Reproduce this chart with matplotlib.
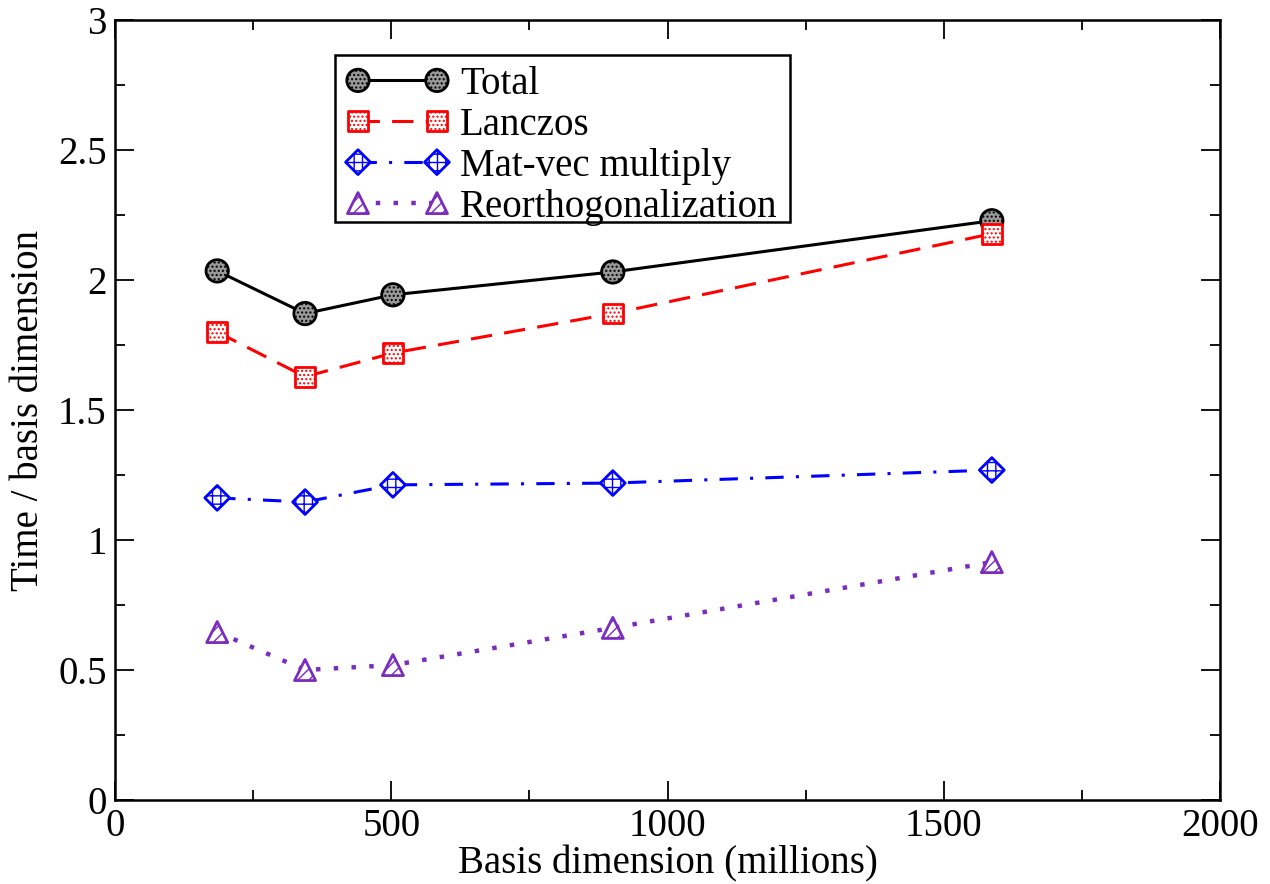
import matplotlib
matplotlib.use("Agg")
import matplotlib.pyplot as plt
from matplotlib.ticker import MultipleLocator
from matplotlib.lines import Line2D
from matplotlib.collections import PathCollection
from matplotlib.markers import MarkerStyle
from matplotlib.patches import Rectangle
import numpy as np

plt.rcParams['font.family'] = ['Liberation Serif', 'DejaVu Serif']
plt.rcParams['hatch.linewidth'] = 1.0

basis = [185, 344, 503, 901, 1587]
total = [2.035, 1.871, 1.943, 2.031, 2.228]
lanczos = [1.800, 1.628, 1.719, 1.871, 2.178]
matvec = [1.162, 1.146, 1.212, 1.219, 1.269]
reortho = [0.646, 0.500, 0.519, 0.662, 0.915]

labels = ["Total", "Lanczos", "Mat-vec multiply", "Reorthogonalization"]
colors = ["black", "red", "blue", "#7b2cbf"]
faces = ["#999999", "white", "white", "white"]
markers = ["o", "s", "D", "^"]
sizes = [260, 200, 160, 230]
hatches = ["....", "....", "++", "///"]
dashes = [None, (7, 4), (6, 4, 1, 4), (1, 3)]
lws = [2.2, 2.2, 2.2, 3.2]
series = [total, lanczos, matvec, reortho]


class Proxy:
    def __init__(self, color, face, marker, size, hatch, dash, lw):
        self.color, self.face, self.marker = color, face, marker
        self.size, self.hatch, self.dash, self.lw = size, hatch, dash, lw


class ProxyHandler:
    def legend_artist(self, legend, orig, fontsize, handlebox):
        x0, y0 = handlebox.xdescent, handlebox.ydescent
        w, h = handlebox.width, handlebox.height
        ym = y0 + h / 2
        ln = Line2D([x0, x0 + w], [ym, ym], color=orig.color, lw=orig.lw)
        if orig.dash is not None:
            ln.set_dashes(orig.dash)
            ln.set_dash_capstyle('butt')
        handlebox.add_artist(ln)
        ms = MarkerStyle(orig.marker)
        path = ms.get_path().transformed(ms.get_transform())
        pc = PathCollection([path], sizes=[orig.size],
                            offsets=np.array([[x0, ym], [x0 + w, ym]]),
                            offset_transform=handlebox.get_transform(),
                            facecolors=orig.face, edgecolors=orig.color,
                            linewidths=2.0, hatch=orig.hatch)
        pc.set_transform(matplotlib.transforms.IdentityTransform())
        handlebox.add_artist(pc)
        return ln


W, H = 1270, 884
fig = plt.figure(figsize=(12.7, 8.84), dpi=100)
ax = fig.add_axes([115/W, 84/H, 1105/W, 780/H])

proxies = []
for y, c, fc, m, s, h, d, lw in zip(series, colors, faces, markers, sizes, hatches, dashes, lws):
    ln, = ax.plot(basis, y, color=c, lw=lw, zorder=2)
    if d is not None:
        ln.set_dashes(d)
        ln.set_dash_capstyle('butt')
    ax.scatter(basis, y, s=s, marker=m, facecolor=fc, edgecolor=c,
               hatch=h, linewidths=2.0, zorder=3)
    proxies.append(Proxy(c, fc, m, s, h, d, lw))

ax.set_xlim(0, 2000)
ax.set_ylim(0, 3)
ax.xaxis.set_major_locator(MultipleLocator(500))
ax.xaxis.set_minor_locator(MultipleLocator(250))
ax.yaxis.set_major_locator(MultipleLocator(0.5))
ax.yaxis.set_minor_locator(MultipleLocator(0.25))
ax.tick_params(which='both', direction='in', top=True, right=True, labelsize=28, width=1.3)
ax.tick_params(which='major', length=14, pad=6)
ax.tick_params(which='minor', length=7)
ax.set_yticks([0, 0.5, 1, 1.5, 2, 2.5, 3])
ax.set_yticklabels(["0", "0.5", "1", "1.5", "2", "2.5", "3"])
for sp in ax.spines.values():
    sp.set_linewidth(1.8)

ax.set_xlabel("Basis dimension (millions)", fontsize=28, labelpad=0)
ax.set_ylabel("Time / basis dimension", fontsize=28, labelpad=8)

# legend frame drawn separately
frame = Rectangle((335/W, 1 - 222/H), 455/W, 167/H, transform=fig.transFigure,
                  facecolor='white', edgecolor='black', lw=1.8, zorder=4, clip_on=False)
ax.add_patch(frame)

leg = ax.legend(proxies, labels, handler_map={Proxy: ProxyHandler()},
                loc='upper left', bbox_to_anchor=(358/W, 1 - 66/H),
                bbox_transform=fig.transFigure,
                fontsize=28, handlelength=2.03, handletextpad=0.59, labelspacing=0.1,
                borderpad=0, borderaxespad=0, frameon=False)
leg.set_zorder(5)

fig.savefig("out.png", dpi=100)
